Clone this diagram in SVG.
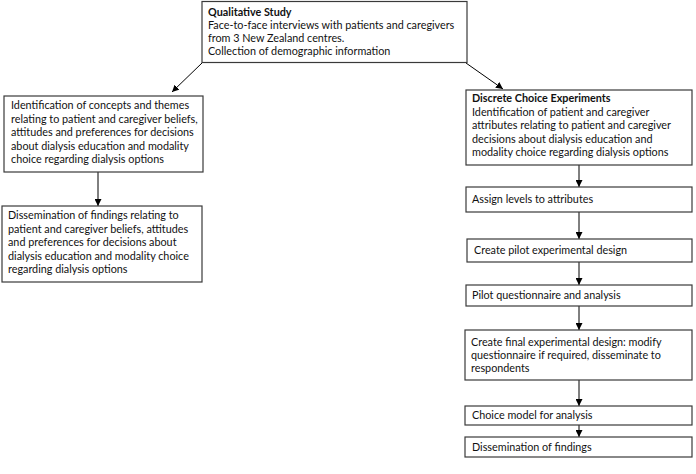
<svg xmlns="http://www.w3.org/2000/svg" width="696" height="474" viewBox="0 0 696 474">
<defs>
<marker id="ah" viewBox="0 0 10 10" refX="10" refY="5" markerWidth="7" markerHeight="7" orient="auto" markerUnits="userSpaceOnUse">
<path d="M0,0 L10,5 L0,10 z" fill="#000"/>
</marker>
<style>
.box{fill:#fff;stroke:#3a3a3a;stroke-width:1.2}
text{font-family:"Lato","Liberation Sans",sans-serif;font-size:10.8px;fill:#111}
.b{font-weight:bold}
.c{stroke:#000;stroke-width:1;fill:none;marker-end:url(#ah)}
</style>
</defs>
<rect width="696" height="474" fill="#fff"/>
<g id="connectors">
<line class="c" x1="202" y1="63" x2="172" y2="92"/>
<line class="c" x1="466" y1="63" x2="503" y2="89"/>
<line class="c" x1="98" y1="172" x2="98" y2="206"/>
<line class="c" x1="579" y1="165" x2="579" y2="187"/>
<line class="c" x1="579" y1="212" x2="579" y2="239"/>
<line class="c" x1="579" y1="262" x2="579" y2="285"/>
<line class="c" x1="579" y1="306" x2="579" y2="330"/>
<line class="c" x1="579" y1="380" x2="579" y2="406"/>
<line class="c" x1="579" y1="425" x2="579" y2="437"/>
</g>
<g id="qualitative">
<rect class="box" x="202" y="1.5" width="265" height="61"/>
<text class="b" x="208" y="16">Qualitative Study</text>
<text x="208" y="29">Face-to-face interviews with patients and caregivers</text>
<text x="208" y="42">from 3 New Zealand centres.</text>
<text x="208" y="55">Collection of demographic information</text>
</g>
<g id="identification">
<rect class="box" x="4" y="96" width="199" height="76"/>
<text x="11" y="109">Identification of concepts and themes</text>
<text x="11" y="122.5">relating to patient and caregiver beliefs,</text>
<text x="11" y="136">attitudes and preferences for decisions</text>
<text x="11" y="149.5">about  dialysis education and modality</text>
<text x="11" y="163">choice regarding dialysis options</text>
</g>
<g id="dissemination-left">
<rect class="box" x="2" y="206" width="200" height="76"/>
<text x="8" y="219">Dissemination of findings relating to</text>
<text x="8" y="232.5">patient and caregiver beliefs, attitudes</text>
<text x="8" y="246">and preferences for decisions about</text>
<text x="8" y="259.5">dialysis education and modality choice</text>
<text x="8" y="273">regarding dialysis options</text>
</g>
<g id="dce">
<rect class="box" x="466" y="90" width="226" height="75"/>
<text class="b" x="472" y="102">Discrete Choice Experiments</text>
<text x="472" y="115.5">Identification of patient and caregiver</text>
<text x="472" y="129">attributes relating to patient and caregiver</text>
<text x="472" y="142.5">decisions about dialysis education and</text>
<text x="472" y="156">modality choice regarding dialysis options</text>
</g>
<g id="assign">
<rect class="box" x="466" y="187" width="226" height="25"/>
<text x="472" y="203">Assign levels to attributes</text>
</g>
<g id="pilot-design">
<rect class="box" x="467" y="239" width="225" height="23"/>
<text x="474" y="254">Create pilot experimental  design</text>
</g>
<g id="pilot-questionnaire">
<rect class="box" x="466" y="285" width="226" height="21"/>
<text x="472" y="299">Pilot questionnaire and analysis</text>
</g>
<g id="final-design">
<rect class="box" x="465" y="330" width="227" height="50"/>
<text x="471" y="346">Create final experimental design: modify</text>
<text x="471" y="359">questionnaire if required,  disseminate to</text>
<text x="471" y="372">respondents</text>
</g>
<g id="choice-model">
<rect class="box" x="465" y="406" width="227" height="19"/>
<text x="472" y="419">Choice model  for  analysis</text>
</g>
<g id="dissemination-right">
<rect class="box" x="465" y="437" width="227" height="20"/>
<text x="472" y="451">Dissemination of findings</text>
</g>
</svg>
